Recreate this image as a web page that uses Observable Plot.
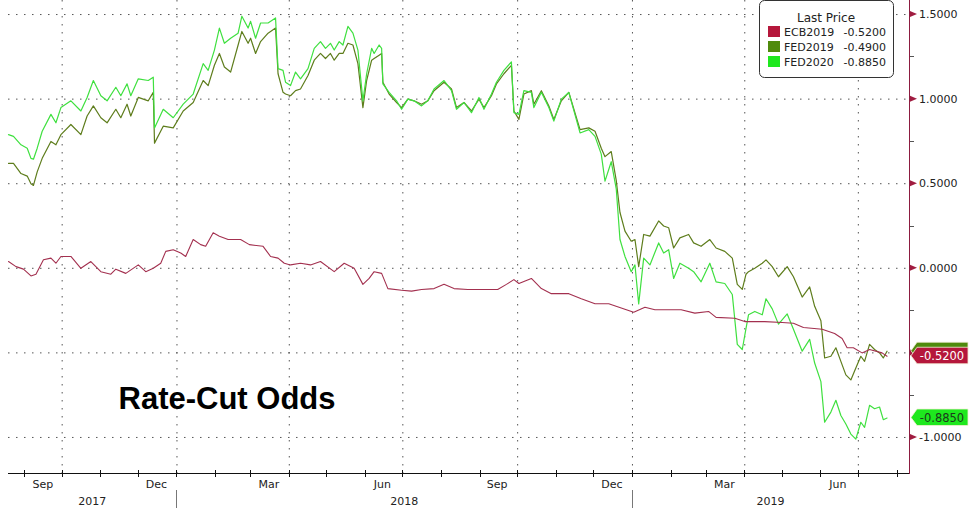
<!DOCTYPE html>
<html><head><meta charset="utf-8">
<script src="https://cdn.jsdelivr.net/npm/d3@7"></script>
<script src="https://cdn.jsdelivr.net/npm/@observablehq/plot@0.6"></script>
<style>
html,body{margin:0;padding:0;background:#fff;}
#chart{width:976px;height:508px;overflow:hidden;}
</style></head><body><div id="chart"></div>
<script>
// ---- data ----
const fedDates = [
"2017-08-19","2017-08-23","2017-08-29","2017-09-03","2017-09-06","2017-09-08","2017-09-11","2017-09-15","2017-09-22","2017-09-26",
"2017-09-30","2017-10-08","2017-10-16","2017-10-21","2017-10-26","2017-11-01","2017-11-06","2017-11-13","2017-11-17","2017-11-22",
"2017-11-25","2017-12-01","2017-12-09","2017-12-13","2017-12-14","2017-12-21","2017-12-29","2018-01-06","2018-01-14","2018-01-22",
"2018-01-26","2018-01-31","2018-02-04","2018-02-08","2018-02-13","2018-02-19","2018-02-22","2018-02-27","2018-03-01","2018-03-05",
"2018-03-09","2018-03-15","2018-03-21","2018-03-23","2018-03-27","2018-03-29","2018-04-02","2018-04-06","2018-04-10","2018-04-16",
"2018-04-21","2018-04-26","2018-04-30","2018-05-04","2018-05-07","2018-05-11","2018-05-14","2018-05-18","2018-05-22","2018-05-26",
"2018-05-30","2018-06-02","2018-06-06","2018-06-08","2018-06-12","2018-06-14","2018-06-15","2018-06-20","2018-06-26","2018-06-30",
"2018-07-05","2018-07-10","2018-07-16","2018-07-21","2018-07-26","2018-08-03","2018-08-09","2018-08-13","2018-08-19","2018-08-25",
"2018-08-31","2018-09-04","2018-09-10","2018-09-14","2018-09-20","2018-09-26","2018-09-28","2018-10-02","2018-10-06","2018-10-12",
"2018-10-14","2018-10-20","2018-10-26","2018-10-30","2018-11-05","2018-11-11","2018-11-20","2018-11-27","2018-12-02","2018-12-07",
"2018-12-10","2018-12-15","2018-12-19","2018-12-22","2018-12-26","2018-12-31","2019-01-03","2019-01-06","2019-01-10","2019-01-15",
"2019-01-22","2019-01-26","2019-01-30","2019-02-03","2019-02-08","2019-02-15","2019-02-19","2019-02-25","2019-03-04","2019-03-09",
"2019-03-16","2019-03-22","2019-03-26","2019-03-30","2019-04-02","2019-04-04","2019-04-09","2019-04-15","2019-04-18","2019-04-23",
"2019-04-28","2019-05-05","2019-05-10","2019-05-17","2019-05-23","2019-05-27","2019-06-01","2019-06-04","2019-06-09","2019-06-13",
"2019-06-17","2019-06-21","2019-06-25","2019-06-29","2019-07-03","2019-07-06","2019-07-10","2019-07-14","2019-07-18","2019-07-21",
"2019-07-24"];
const fed2019 = [
0.62,0.62,0.56,0.545,0.50,0.49,0.57,0.65,0.75,0.73,
0.79,0.85,0.79,0.90,0.96,0.89,0.86,0.94,0.89,0.97,
0.90,1.01,0.99,1.04,0.74,0.84,0.83,0.93,0.98,1.11,
1.08,1.20,1.27,1.19,1.16,1.32,1.40,1.33,1.36,1.27,
1.34,1.39,1.42,1.15,1.04,1.03,1.02,1.05,1.06,1.14,
1.23,1.27,1.24,1.27,1.23,1.27,1.27,1.33,1.32,1.21,
0.95,1.11,1.23,1.24,1.26,1.27,1.10,1.03,0.98,0.95,
1.00,0.99,0.97,0.99,1.05,1.10,1.06,0.95,0.98,0.93,
1.00,0.95,1.02,1.09,1.15,1.20,0.93,0.88,1.03,1.05,
0.97,1.05,0.96,0.88,0.99,1.04,0.82,0.83,0.81,0.71,
0.66,0.69,0.52,0.33,0.22,0.16,0.17,0.01,0.20,0.19,
0.28,0.25,0.24,0.12,0.18,0.20,0.15,0.13,0.17,0.12,
0.10,0.06,-0.095,-0.125,-0.035,-0.02,0.00,0.03,0.05,0.01,
-0.05,0.01,-0.05,-0.17,-0.11,-0.225,-0.31,-0.53,-0.52,-0.47,
-0.55,-0.63,-0.66,-0.59,-0.52,-0.55,-0.45,-0.48,-0.50,-0.53,
-0.49];
const fed2020 = [
0.79,0.78,0.73,0.71,0.65,0.645,0.71,0.81,0.91,0.86,
0.95,0.99,0.93,1.01,1.11,1.02,0.99,1.07,1.02,1.09,
1.02,1.12,1.11,1.13,0.83,0.94,0.89,0.97,1.03,1.21,
1.17,1.29,1.42,1.33,1.36,1.39,1.49,1.42,1.46,1.36,
1.45,1.45,1.48,1.18,1.17,1.10,1.08,1.16,1.12,1.18,
1.30,1.34,1.30,1.33,1.29,1.34,1.32,1.43,1.39,1.29,
0.99,1.15,1.30,1.27,1.32,1.30,1.09,1.04,0.99,0.94,
1.00,0.99,0.96,0.99,1.06,1.11,1.05,0.94,0.98,0.92,
1.01,0.94,1.03,1.10,1.17,1.22,0.92,0.91,1.05,1.04,
0.95,1.04,0.95,0.87,1.00,1.04,0.80,0.82,0.78,0.675,
0.515,0.63,0.47,0.17,0.07,-0.02,0.02,-0.21,0.06,0.02,
0.15,0.09,0.11,-0.06,0.03,0.00,-0.02,-0.08,0.03,-0.08,
-0.09,-0.155,-0.45,-0.48,-0.355,-0.275,-0.255,-0.275,-0.18,-0.24,
-0.33,-0.27,-0.36,-0.49,-0.42,-0.56,-0.67,-0.91,-0.85,-0.78,
-0.87,-0.92,-0.98,-1.01,-0.91,-0.94,-0.81,-0.83,-0.82,-0.895,
-0.885];
const ecbDates = [
"2017-08-19","2017-08-25","2017-08-31","2017-09-06","2017-09-10","2017-09-16","2017-09-22","2017-09-26","2017-09-30","2017-10-08",
"2017-10-16","2017-10-24","2017-11-01","2017-11-09","2017-11-13","2017-11-21","2017-12-01","2017-12-07","2017-12-13","2017-12-19",
"2017-12-23","2017-12-29","2018-01-04","2018-01-08","2018-01-14","2018-01-20","2018-01-24","2018-01-30","2018-02-04","2018-02-11",
"2018-02-21","2018-02-28","2018-03-11","2018-03-17","2018-03-23","2018-03-28","2018-04-02","2018-04-10","2018-04-18","2018-04-26",
"2018-05-07","2018-05-15","2018-05-23","2018-05-30","2018-06-04","2018-06-08","2018-06-14","2018-06-19","2018-06-30","2018-07-08",
"2018-07-16","2018-07-26","2018-08-03","2018-08-11","2018-08-22","2018-09-02","2018-09-15","2018-09-22","2018-09-28","2018-10-02",
"2018-10-12","2018-10-20","2018-10-28","2018-11-11","2018-11-21","2018-12-02","2018-12-13","2018-12-23","2019-01-02","2019-01-11",
"2019-01-19","2019-01-27","2019-02-09","2019-02-20","2019-03-03","2019-03-09","2019-03-24","2019-04-01","2019-04-17","2019-05-01",
"2019-05-10","2019-05-18","2019-06-02","2019-06-12","2019-06-18","2019-06-22","2019-06-27","2019-07-04","2019-07-10","2019-07-20",
"2019-07-24"];
const ecb2019 = [
0.04,0.01,-0.005,-0.045,-0.035,0.05,0.06,0.03,0.07,0.07,
0.00,0.04,-0.02,-0.035,-0.005,-0.03,0.02,-0.02,0.00,0.03,
0.10,0.11,0.09,0.07,0.17,0.14,0.13,0.21,0.19,0.17,
0.17,0.14,0.13,0.07,0.06,0.03,0.02,0.03,0.02,0.04,
-0.02,0.03,0.00,-0.095,-0.06,-0.02,-0.03,-0.12,-0.13,-0.135,
-0.125,-0.12,-0.095,-0.12,-0.125,-0.125,-0.125,-0.095,-0.067,-0.09,
-0.06,-0.12,-0.15,-0.15,-0.18,-0.21,-0.21,-0.235,-0.26,-0.23,
-0.245,-0.245,-0.245,-0.265,-0.255,-0.29,-0.295,-0.315,-0.315,-0.32,
-0.325,-0.35,-0.36,-0.385,-0.415,-0.47,-0.47,-0.50,-0.48,-0.50,
-0.52];

const seriesNames = ["ECB2019", "FED2019", "FED2020"];
const lastPrices = [-0.52, -0.49, -0.885];
const lineColors = ["#a3304f", "#5e7d1c", "#3fe03f"];
const swatchColors = ["#b5173b", "#4f8a0c", "#1ee81e"];
const tagTextColors = ["#ffffff", "#ffffff", "#1c3a1c"];
const legendTitle = "Last Price";
const title = "Rate-Cut Odds";
const yTicks = [-1, -0.5, 0, 0.5, 1, 1.5];
const yMinorTicks = [-0.75, -0.25, 0.25, 0.75, 1.25];
const quarterStarts = ["2017-10-01","2018-01-01","2018-04-01","2018-07-01","2018-10-01","2019-01-01","2019-04-01","2019-07-01"];
const monthLabels = ["Sep","Dec","Mar","Jun","Sep","Dec","Mar","Jun"];
const monthLabelDates = ["2017-09-16","2017-12-16","2018-03-16","2018-06-15","2018-09-15","2018-12-16","2019-03-16","2019-06-15"];
const yearLabels = ["2017","2018","2019"];
const yearStarts = ["2018-01-01","2019-01-01"];
const xDomain = ["2017-08-19","2019-08-11"];
const yDomain = [-1.213, 1.583];

// ---- build ----
const P = d3.utcParse("%Y-%m-%d");
const fed19Data = fedDates.map((d, i) => ({date: P(d), value: fed2019[i]}));
const fed20Data = fedDates.map((d, i) => ({date: P(d), value: fed2020[i]}));
const ecbData = ecbDates.map((d, i) => ({date: P(d), value: ecb2019[i]}));
const FONT = "'DejaVu Sans', Verdana, sans-serif";

function bottomAxis(index, scales, values, dims) {
  const x = scales.x;
  const g = d3.create("svg:g").attr("font-family", FONT).attr("font-size", 11).attr("fill", "#222").attr("text-anchor", "middle");
  const y0 = dims.height - dims.marginBottom;
  const xl = dims.marginLeft, xr = dims.width - dims.marginRight;
  g.append("line").attr("x1", xl).attr("x2", xr).attr("y1", y0 + 0.5).attr("y2", y0 + 0.5).attr("stroke", "#111");
  const months = d3.utcMonths(P(xDomain[0]), P(xDomain[1]));
  for (const m of months) {
    const px = Math.round(x(m)) + 0.5;
    g.append("line").attr("x1", px).attr("x2", px).attr("y1", y0 - 3).attr("y2", y0 + 4).attr("stroke", "#111");
  }
  monthLabels.forEach((t, i) => {
    g.append("text").attr("x", x(P(monthLabelDates[i]))).attr("y", y0 + 15).text(t);
  });
  const bounds = [P(xDomain[0]), ...yearStarts.map(P), P(xDomain[1])];
  yearLabels.forEach((t, i) => {
    const cx = (x(bounds[i]) + x(bounds[i + 1])) / 2;
    g.append("text").attr("x", cx).attr("y", y0 + 32).text(t);
  });
  for (const ys of yearStarts) {
    const px = Math.round(x(P(ys))) + 0.5;
    g.append("line").attr("x1", px).attr("x2", px).attr("y1", y0 + 17).attr("y2", y0 + 35).attr("stroke", "#777");
  }
  return g.node();
}

function rightAxis(index, scales, values, dims) {
  const y = scales.y;
  const g = d3.create("svg:g").attr("font-family", FONT).attr("font-size", 11).attr("fill", "#222").attr("text-anchor", "start");
  const y0 = dims.height - dims.marginBottom;
  const xr = dims.width - dims.marginRight;
  g.append("line").attr("x1", xr + 0.5).attr("x2", xr + 0.5).attr("y1", 0).attr("y2", y0 + 1).attr("stroke", "#8c1c40");
  for (const v of yMinorTicks) {
    const py = Math.round(y(v)) + 0.5;
    g.append("line").attr("x1", xr + 1).attr("x2", xr + 5).attr("y1", py).attr("y2", py).attr("stroke", "#555");
  }
  const tagYs = lastPrices.map(v => y(v));
  for (const v of yTicks) {
    const py = y(v);
    g.append("path").attr("d", `M${xr + 1},${py - 3}L${xr + 8},${py}L${xr + 1},${py + 3}Z`).attr("fill", "#a01c40");
    // a label hidden behind a last-price tag is not drawn (as in the reference)
    if (tagYs.some(ty => Math.abs(ty - py) < 12)) continue;
    g.append("text").attr("x", xr + 10).attr("y", py + 4).text(v.toFixed(4));
  }
  return g.node();
}

function valueTags(index, scales, values, dims) {
  const y = scales.y;
  const g = d3.create("svg:g").attr("font-family", FONT).attr("font-size", 11.5).attr("text-anchor", "middle");
  const xr = dims.width - dims.marginRight;
  const order = [1, 0, 2];
  for (const i of order) {
    const py = y(lastPrices[i]);
    g.append("path")
      .attr("d", `M${xr + 2},${py}L${xr + 8},${py - 8.5}L${xr + 59},${py - 8.5}L${xr + 59},${py + 8}L${xr + 8},${py + 8}Z`)
      .attr("fill", swatchColors[i]).attr("stroke", "#f4efd6").attr("stroke-width", 0.8);
    if (i === 1) continue; // FED2019 tag is covered by the ECB tag; its text is not visible
    g.append("text").attr("x", xr + 33).attr("y", py + 4.5)
      .attr("fill", tagTextColors[i]).text(lastPrices[i].toFixed(4));
  }
  return g.node();
}

function legend(index, scales, values, dims) {
  const xr = dims.width - dims.marginRight;
  const bx = xr - 150;
  const g = d3.create("svg:g").attr("font-family", FONT).attr("font-size", 11).attr("fill", "#222").attr("text-anchor", "start");
  g.append("rect").attr("x", bx + 0.5).attr("y", 0.5).attr("width", 134).attr("height", 77)
    .attr("rx", 5).attr("fill", "#fff").attr("stroke", "#333");
  g.append("text").attr("x", bx + 67).attr("y", 22).attr("text-anchor", "middle").attr("font-size", 12).text(legendTitle);
  seriesNames.forEach((name, i) => {
    const ty = 26 + i * 15;
    g.append("rect").attr("x", bx + 9).attr("y", ty).attr("width", 12).attr("height", 11).attr("fill", swatchColors[i]);
    g.append("text").attr("x", bx + 25).attr("y", ty + 10).text(name);
    g.append("text").attr("x", bx + 127).attr("y", ty + 10).attr("text-anchor", "end").text(lastPrices[i].toFixed(4));
  });
  return g.node();
}

const chart = Plot.plot({
  width: 976,
  height: 508,
  marginTop: 0,
  marginBottom: 35,
  marginLeft: 8,
  marginRight: 67,
  x: {type: "utc", domain: xDomain.map(P), axis: null},
  y: {domain: yDomain, axis: null},
  style: {fontFamily: FONT, fontSize: "11px", background: "#fff", color: "#222", overflow: "visible"},
  marks: [
    Plot.ruleY(yTicks, {stroke: "#555", strokeDasharray: "1.5,6.5", strokeWidth: 1}),
    Plot.ruleX(quarterStarts.map(P), {stroke: "#555", strokeDasharray: "1.5,6.5", strokeWidth: 1}),
    Plot.line(fed19Data, {x: "date", y: "value", stroke: lineColors[1], strokeWidth: 1.2}),
    Plot.line(fed20Data, {x: "date", y: "value", stroke: lineColors[2], strokeWidth: 1.2}),
    Plot.line(ecbData, {x: "date", y: "value", stroke: lineColors[0], strokeWidth: 1.1}),
    bottomAxis,
    rightAxis,
    valueTags,
    legend,
    Plot.text([title], {text: d => d, frameAnchor: "bottom-left", dx: 110, dy: -65, textAnchor: "start", lineAnchor: "bottom",
      fontSize: 31, fontWeight: "bold", fontFamily: "'Liberation Sans', Arial, sans-serif", fill: "#000"})
  ]
});
document.getElementById("chart").appendChild(chart);
</script>
</body></html>
